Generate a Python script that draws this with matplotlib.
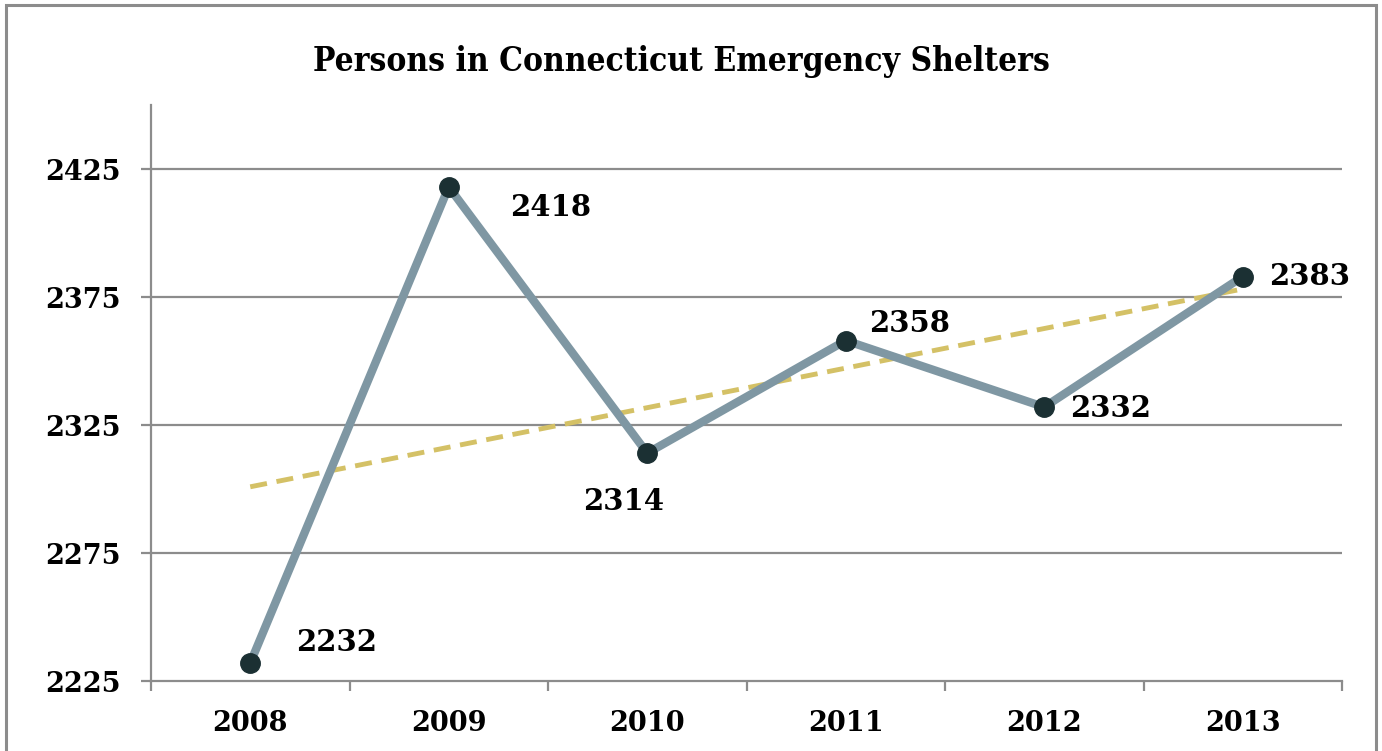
import matplotlib
matplotlib.use("Agg")
import matplotlib.pyplot as plt
from matplotlib.patches import Rectangle
import numpy as np

# Data
years = ["2008", "2009", "2010", "2011", "2012", "2013"]
persons = [2232, 2418, 2314, 2358, 2332, 2383]
y_ticks = [2225, 2275, 2325, 2375, 2425]

# Label offsets (points) relative to each marker
label_offsets = [(62, 15), (73, -15), (-17, -35), (46, 12), (48, -1), (48, 0)]

W, H, DPI = 1382, 751, 100
fig = plt.figure(figsize=(W / DPI, H / DPI), dpi=DPI)
fig.patch.set_facecolor("white")

# Outer chart frame
fig.patches.append(Rectangle((6 / W, -0.05), (1376 - 6) / W, 1.05 - 5 / H,
                             transform=fig.transFigure, fill=False,
                             edgecolor="#8c8c8c", linewidth=2.2))

ax_left, ax_right = 151 / W, 1342 / W
ax_top, ax_bottom = 105 / H, 681 / H
ax = fig.add_axes([ax_left, 1 - ax_bottom, ax_right - ax_left, ax_bottom - ax_top])

x = np.arange(len(years))
ax.set_xlim(-0.5, len(years) - 0.5)
ax.set_ylim(2225, 2450)

grid_c = "#8c8c8c"
for t in y_ticks[1:]:
    ax.axhline(t, color=grid_c, linewidth=1.6, zorder=1)

for s in ["top", "right"]:
    ax.spines[s].set_visible(False)
for s in ["left", "bottom"]:
    ax.spines[s].set_color(grid_c)
    ax.spines[s].set_linewidth(1.6)

serif = ["DejaVu Serif"]
ax.set_yticks(y_ticks)
ax.set_yticklabels([str(t) for t in y_ticks], fontfamily=serif,
                   fontweight="bold", fontsize=19.5)
ax.tick_params(axis="y", length=7, width=1.6, color=grid_c, pad=15)

ax.set_xticks(np.arange(-0.5, len(years), 1.0))
ax.set_xticklabels([])
ax.tick_params(axis="x", length=7, width=1.6, color=grid_c, direction="out")
ax.set_xticks(x, minor=True)
ax.set_xticklabels(years, minor=True, fontfamily=serif, fontweight="bold",
                   fontsize=19.5)
ax.tick_params(axis="x", which="minor", length=0, pad=21)

# Series line with markers
ax.plot(x, persons, color="#7f97a3", linewidth=6, zorder=3,
        solid_capstyle="round")
ax.plot(x, persons, linestyle="none", marker="o", markersize=14,
        color="#1b3033", zorder=4)

# Linear trend line
coef = np.polyfit(x, persons, 1)
ax.plot(x, np.polyval(coef, x), color="#d4c166", linewidth=3.5,
        linestyle=(0, (3.5, 2)), zorder=2.5)

for xi, v, off in zip(x, persons, label_offsets):
    ax.annotate(str(v), (xi, v), xytext=off, textcoords="offset points",
                ha="center", va="center", fontfamily=serif,
                fontweight="bold", fontsize=21, zorder=5)

fig.text(681 / W, 1 - 62 / H, "Persons in Connecticut Emergency Shelters",
         ha="center", va="center", fontfamily=serif, fontweight="bold",
         fontstretch="condensed", fontsize=24)

fig.savefig("out.png", dpi=DPI, facecolor="white")
